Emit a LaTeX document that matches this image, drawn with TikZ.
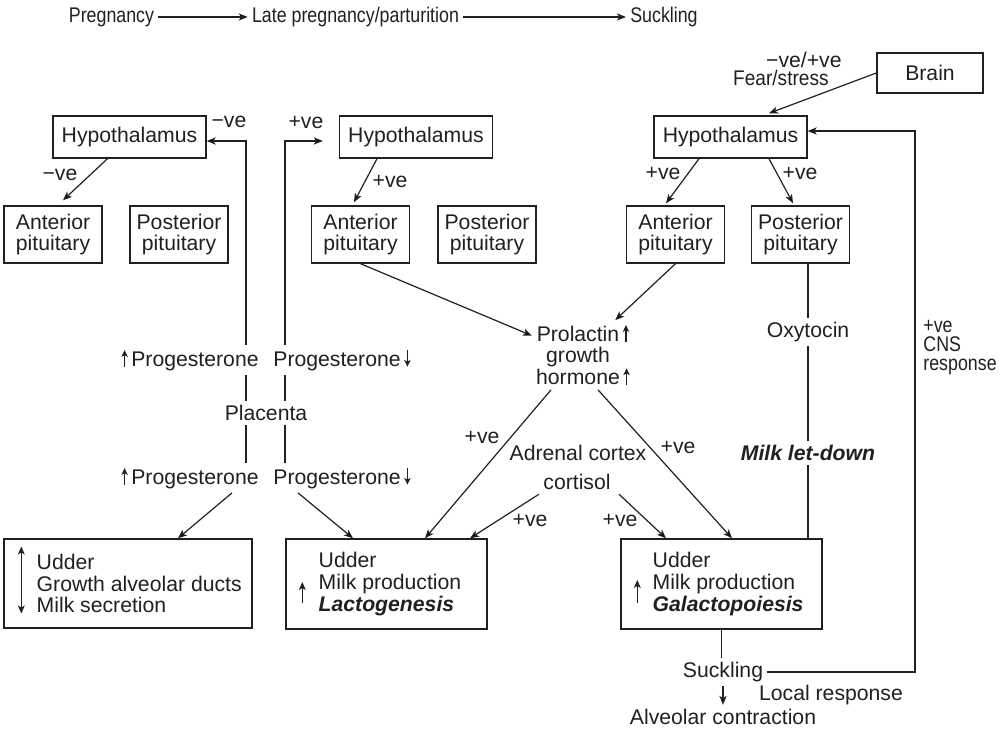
\documentclass[tikz,border=0pt]{standalone}
\usepackage{fontspec}
\setmainfont{Liberation Sans}
\newfontfamily\narfont[FakeStretch=0.84]{Liberation Sans}
\newfontfamily\midfont[FakeStretch=0.9]{Liberation Sans}
\usetikzlibrary{arrows.meta,calc}
\definecolor{ink}{HTML}{231F20}
\tikzset{
  box/.style={draw=ink,line width=0.7pt,inner sep=0pt,align=center},
  hyp/.style={box,minimum width=76.5pt,minimum height=21pt},
  pit/.style={box,minimum width=49pt,minimum height=28.5pt},
  ud/.style={box,minimum width=100.5pt,minimum height=45pt},
  txt/.style={inner sep=2pt,align=center},
  nar/.style={font=\narfont\fontsize{10.6}{9.5}\selectfont},
  ln/.style={draw=ink,line width=0.6pt},
  arr/.style={ln,-{Stealth[length=4.5pt,width=3.6pt,inset=1.2pt]}},
  sarr/.style={ln,line width=0.55pt,-{Stealth[length=4pt,width=3.4pt,inset=1pt]}}
}
\newcommand{\upa}{\tikz[baseline=0pt,x=1pt,y=1pt]\draw[line width=0.55pt,-{Stealth[length=3.4pt,width=3.2pt,inset=0.9pt]}] (0,-0.3)--(0,8);}
\newcommand{\dna}{\tikz[baseline=0pt,x=1pt,y=1pt]\draw[line width=0.55pt,-{Stealth[length=3.4pt,width=3.2pt,inset=0.9pt]}] (0,8)--(0,-0.3);}

\begin{document}
\begin{tikzpicture}[x=0.5pt,y=-0.5pt,font=\fontsize{10.6}{10.8}\selectfont,text=ink]
\useasboundingbox (0,0) rectangle (1006,732);
\node[txt,nar] (preg) at (111.5,17) {Pregnancy};
\node[txt,nar] (late) at (355.5,17) {Late pregnancy/parturition};
\node[txt,nar] (suck0) at (664,17) {Suckling};
\draw[arr] (preg) -- (late); \draw[arr] (late) -- (suck0);

\node[hyp] (h1) at (129.5,137) {Hypothalamus};
\node[hyp] (h2) at (416,137) {Hypothalamus};
\node[hyp] (h3) at (730.5,137) {Hypothalamus};
\node[box,minimum width=53pt,minimum height=20pt] (brain) at (930,73) {Brain};
\node[pit] (ap1) at (53,234.5) {Anterior\\pituitary};
\node[pit] (pp1) at (179,234.5) {Posterior\\pituitary};
\node[pit] (ap2) at (360.5,234.5) {Anterior\\pituitary};
\node[pit] (pp2) at (487,234.5) {Posterior\\pituitary};
\node[pit] (ap3) at (675.5,234.5) {Anterior\\pituitary};
\node[pit] (pp3) at (800.5,234.5) {Posterior\\pituitary};

\node[box,minimum width=124pt,minimum height=44.5pt] (u1) at (128,583.5) {};
\node[ud] (u2) at (386.5,584) {};
\node[ud] (u3) at (721.5,584) {};
\node[anchor=west,align=left,inner sep=0pt] (t1) at ($(u1.west)+(33,0)$) {Udder\\Growth alveolar ducts\\Milk secretion};
\node[anchor=west,align=left,inner sep=0pt] (t2) at ($(u2.west)+(33,0)$) {Udder\\Milk production\\\textbf{\textit{Lactogenesis}}};
\node[anchor=west,align=left,inner sep=0pt] (t3) at ($(u3.west)+(32,0)$) {Udder\\Milk production\\\textbf{\textit{Galactopoiesis}}};
\draw[ln,line width=0.55pt,{Stealth[length=4pt,width=3.4pt,inset=1pt]}-{Stealth[length=4pt,width=3.4pt,inset=1pt]}] ($(u1.west)+(18,-37)$) -- ($(u1.west)+(18,30)$);
\draw[sarr] ($(u2.west)+(17,19)$) -- ($(u2.west)+(17,-2)$);
\draw[sarr] ($(u3.west)+(17,19)$) -- ($(u3.west)+(17,-4)$);

\coordinate (lt) at (246,141); \coordinate (rt) at (285,141);
\node[txt,anchor=east,inner xsep=0pt] (pg1) at (259,360) {\upa\,Progesterone};
\node[txt,anchor=west,inner xsep=0pt] (pg2) at (273,360) {Progesterone\,\dna};
\node[txt] (pla) at (266,413) {Placenta};
\node[txt,anchor=east,inner xsep=0pt] (pg3) at (259,478) {\upa\,Progesterone};
\node[txt,anchor=west,inner xsep=0pt] (pg4) at (273,478) {Progesterone\,\dna};
\draw[ln] (lt |- pg3.north) -- (lt |- pla.south) (lt |- pla.north) -- (lt |- pg1.south);
\draw[arr] (lt |- pg1.north) -- (lt) -- (lt -| h1.east);
\draw[ln] (rt |- pg4.north) -- (rt |- pla.south) (rt |- pla.north) -- (rt |- pg2.south);
\draw[arr,shorten >=8pt] (rt |- pg2.north) -- (rt) -- (rt -| h2.west);
\node[txt] (nv1) at (229,122) {−ve}; \node[txt] (pv1) at (306,122) {+ve};

\draw[arr] ($(h1.south)+(-22,0)$) -- ($(ap1.north)+(10,-5)$);
\node[txt] (nv2) at (60,175) {−ve};
\draw[arr] ($(h2.south)+(-39,0)$) -- ($(ap2.north)+(-6.5,-3)$);
\node[txt] (pv2) at (390,181) {+ve};
\draw[arr] ($(h3.south)+(-31.5,0)$) -- ($(ap3.north)+(-9.5,-2)$);
\draw[arr] ($(h3.south)+(38.5,0)$) -- ($(pp3.north)+(-7.5,-2)$);
\node[txt] (pv3) at (663,173) {+ve}; \node[txt] (pv4) at (800,173) {+ve};
\draw[arr] (brain.west) -- ($(h3.north)+(38.5,-2)$);
\node[inner sep=0.5pt,align=right,anchor=east,font=\fontsize{10.6}{9.4}\selectfont] (fs) at (843,69) {−ve/+ve\\{\midfont Fear/stress}\hspace*{6.5pt}};

\node[txt] (prl) at (578,355) {Prolactin\rlap{\,\upa}\\growth\\hormone\rlap{\,\upa}};
\draw[arr] (ap2.south) -- (prl); \draw[arr] (ap3.south) -- (prl);
\draw[arr] ($(prl.south)+(-27,0)$) -- ($(u2.north)+(38.5,0)$);
\draw[arr] ($(prl.south)+(20,0)$) -- ($(u3.north)+(10.5,0)$);
\node[txt] (adr) at (578,453) {Adrenal cortex};
\node[txt] (cor) at (577,482) {cortisol};
\draw[arr] (cor.south west) -- ($(u2.north)+(83.5,0)$);
\draw[arr] ($(cor.south east)+(4,0)$) -- ($(u3.north)+(-55.5,0)$);
\node[txt] (pv5) at (482,437) {+ve}; \node[txt] (pv6) at (678,447) {+ve};
\node[txt] (pv7) at (530,520) {+ve}; \node[txt] (pv8) at (620,520) {+ve};
\draw[arr] ($(pg3.south east)+(-27,0)$) -- ($(u1.north)+(50,0)$);
\draw[arr] ($(pg4.south west)+(25,0)$) -- ($(u2.north)+(-33.5,0)$);

\node[txt] (oxy) at (808,332) {Oxytocin};
\draw[ln] (oxy |- pp3.south) -- (oxy.north);
\node[txt] (mld) at (808,453) {\textbf{\textit{Milk let-down}}};
\draw[ln] (oxy) -- (mld); \draw[ln] (mld) -- (mld |- u3.north);

\node[txt] (suck) at (723,672) {Suckling};
\draw[ln] (u3.south) -- (u3.south |- suck.north);
\node[txt] (alv) at (723,717) {Alveolar contraction};
\draw[arr] (suck) -- (alv);
\node[txt] (loc) at (831,695) {Local response};
\coordinate (fb) at (915,131);
\draw[arr] (suck.east) -- (suck.east -| fb) -- (fb) -- (fb -| h3.east);
\node[txt,nar,anchor=west,align=left] (cns) at (919,348) {+ve\\CNS\\response};
\end{tikzpicture}
\end{document}
